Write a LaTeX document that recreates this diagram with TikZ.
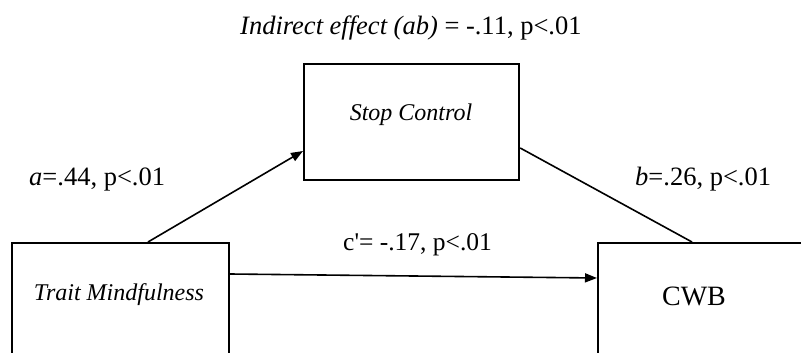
\documentclass[tikz,border=0pt]{standalone}
\usepackage{fontspec}
\setmainfont{Liberation Serif}[Ligatures=TeXOff]
\usetikzlibrary{arrows.meta}
\tikzset{
  box/.style={draw=black, line width=2.2pt, fill=white, inner sep=0pt, anchor=north west},
  conn/.style={draw=black, line width=1.6pt},
  arr/.style={conn, -{Triangle[length=12pt,width=9pt]}},
  lbl/.style={inner sep=0pt, anchor=base west, font=\fontsize{26.5}{30}\selectfont},
  boxtxt/.style={inner sep=0pt, font=\fontsize{24}{28}\selectfont\itshape}
}
\begin{document}
\begin{tikzpicture}[x=1pt,y=-1pt]
\useasboundingbox (0,0) rectangle (801,353);
\fill[white] (0,0) rectangle (801,353);
\clip (0,0) rectangle (801,353);
% boxes
\node[box, minimum width=215pt, minimum height=116pt] (stop) at (303,63) {};
\node[box, minimum width=217pt, minimum height=140pt] (trait) at (11,242) {};
\node[box, minimum width=240pt, minimum height=140pt] (cwb) at (597,242) {};
% box texts
\node[boxtxt] (stoptxt) at (411,115) {Stop Control};
\node[boxtxt] (traittxt) at (119,295) {Trait Mindfulness};
\node[inner sep=0pt, font=\fontsize{28}{32}\selectfont] (cwbtxt) at (694,296) {CWB};
% connectors
\draw[arr] ([xshift=137pt]trait.north west) -- ([yshift=-88pt]stop.north west);
\draw[conn] ([yshift=-85pt]stop.north east) -- ([xshift=95pt]cwb.north west);
\draw[arr] ([yshift=-32pt]trait.north east) -- ([yshift=-36pt]cwb.north west);
% labels
\node[lbl] (ind) at (240,35) {\textit{Indirect effect (ab)} = -.11, p<.01};
\node[lbl] (alab) at (29,185) {\textit{a}=.44, p<.01};
\node[lbl] (blab) at (635,185) {\textit{b}=.26, p<.01};
\node[lbl, font=\fontsize{25.5}{30}\selectfont] (clab) at (343,250) {c'= -.17, p<.01};
\end{tikzpicture}
\end{document}
